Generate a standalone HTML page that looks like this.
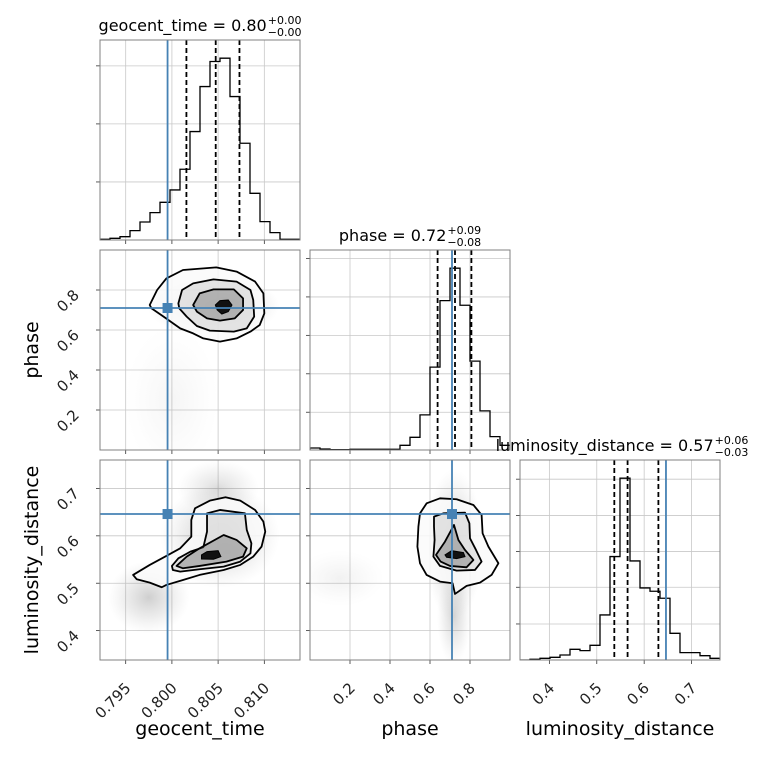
<!DOCTYPE html>
<html><head><meta charset="utf-8"><style>
html,body{margin:0;padding:0;background:#fff;}
svg{display:block;font-family:"DejaVu Sans","Liberation Sans",sans-serif;}
</style></head><body>
<svg id="chart" width="760" height="760" viewBox="0 0 760 760" xmlns="http://www.w3.org/2000/svg">
<defs>
<radialGradient id="blob" cx="50%" cy="50%" r="50%">
<stop offset="0%" stop-color="#666" stop-opacity="0.9"/>
<stop offset="55%" stop-color="#888" stop-opacity="0.45"/>
<stop offset="100%" stop-color="#aaa" stop-opacity="0"/>
</radialGradient>
</defs>
</svg>
<script>
// ---------- data ----------
const geoRange = [0.79222, 0.81386];
const phaseRange = [0, 1];
const lumRange = [0.338, 0.760];
const geoTicks = [0.795, 0.800, 0.805, 0.810];
const geoTickLabels = ["0.795", "0.800", "0.805", "0.810"];
const phaseTicks = [0.2, 0.4, 0.6, 0.8];
const phaseTickLabels = ["0.2", "0.4", "0.6", "0.8"];
const lumTicks = [0.4, 0.5, 0.6, 0.7];
const lumTickLabels = ["0.4", "0.5", "0.6", "0.7"];

const geoCounts = [2,5,10,28,54,82,113,150,212,325,460,535,545,430,290,140,55,22,2,2];
const phaseCounts = [6,3,1,1,2,2,2,2,2,14,38,105,248,447,544,433,266,117,40,14];
const lumCounts = [0,2,5,8,15,32,28,44,135,310,545,297,216,206,185,80,22,22,13,5];
const geoCountTicks = [174,348,522];
const phaseCountTicks = [113,228,343,458,573];
const lumCountTicks = [108,218,325,433,542];
const geoQuantiles = [0.80157, 0.80474, 0.80731];
const phaseQuantiles = [0.638, 0.725, 0.807];
const lumQuantiles = [0.537, 0.565, 0.630];
const truthGeo = 0.79953;
const truthPhase = 0.71;
const truthLum = 0.646;

// density clouds: [x, y, sigmaX, sigmaY, opacity]
const cloudGeoPhase = [[0.8045,0.72,0.0042,0.09,0.45],[0.8060,0.72,0.0014,0.04,0.5],[0.8000,0.25,0.003,0.22,0.07]];
const cloudGeoLum = [[0.8052,0.60,0.0038,0.065,0.4],[0.7975,0.47,0.0026,0.045,0.35],[0.8060,0.565,0.0014,0.015,0.55],[0.8050,0.70,0.0026,0.035,0.25]];
const cloudPhaseLum = [[0.72,0.58,0.085,0.095,0.4],[0.72,0.43,0.05,0.06,0.3],[0.72,0.565,0.035,0.018,0.55],[0.15,0.51,0.13,0.035,0.1]];

// contours [x, y]
const contGeoPhase = [
 [[0.7976,0.725],[0.7984,0.800],[0.7994,0.858],[0.8012,0.900],[0.8048,0.913],[0.8070,0.892],[0.8090,0.842],[0.8099,0.783],[0.8100,0.683],[0.8095,0.625],[0.8085,0.592],[0.8070,0.558],[0.8052,0.542],[0.8034,0.558],[0.8023,0.583],[0.8009,0.608],[0.7991,0.667],[0.7978,0.708]],
 [[0.8007,0.733],[0.8011,0.800],[0.8023,0.833],[0.8045,0.853],[0.8070,0.842],[0.8085,0.800],[0.8088,0.750],[0.8089,0.667],[0.8081,0.608],[0.8067,0.592],[0.8041,0.597],[0.8027,0.620],[0.8016,0.667],[0.8008,0.708]],
 [[0.8023,0.725],[0.8030,0.783],[0.8045,0.803],[0.8067,0.803],[0.8077,0.758],[0.8077,0.700],[0.8068,0.658],[0.8052,0.647],[0.8038,0.658],[0.8027,0.692]]
];
const coreGeoPhase = [[0.8047,0.725],[0.8052,0.747],[0.8061,0.750],[0.8065,0.725],[0.8061,0.692],[0.8054,0.680],[0.8049,0.700]];
const contGeoLum = [
 [[0.7958,0.5175],[0.7976,0.5386],[0.7996,0.5597],[0.8009,0.5737],[0.8021,0.5983],[0.8021,0.6335],[0.8025,0.6581],[0.8041,0.6742],[0.8058,0.6813],[0.8074,0.6742],[0.8090,0.6546],[0.8099,0.6299],[0.8101,0.6089],[0.8097,0.5772],[0.8088,0.5561],[0.8074,0.5386],[0.8056,0.5280],[0.8030,0.5175],[0.8012,0.5069],[0.7994,0.4964],[0.7989,0.4915],[0.7976,0.5013],[0.7962,0.5083]],
 [[0.8000,0.5365],[0.8007,0.5526],[0.8020,0.5667],[0.8034,0.5758],[0.8038,0.6089],[0.8038,0.6475],[0.8052,0.6546],[0.8079,0.6475],[0.8081,0.6124],[0.8086,0.5843],[0.8085,0.5632],[0.8074,0.5456],[0.8056,0.5350],[0.8030,0.5294],[0.8009,0.5245],[0.8001,0.5280]],
 [[0.8005,0.5365],[0.8016,0.5561],[0.8030,0.5737],[0.8056,0.6018],[0.8070,0.5913],[0.8081,0.5737],[0.8077,0.5561],[0.8059,0.5456],[0.8030,0.5365],[0.8012,0.5315]]
];
const coreGeoLum = [[0.8032,0.5597],[0.8038,0.5667],[0.8050,0.5688],[0.8053,0.5561],[0.8045,0.5505],[0.8032,0.5512]];
const contPhaseLum = [
 [[0.550,0.6475],[0.583,0.6686],[0.650,0.6792],[0.733,0.6771],[0.817,0.6651],[0.858,0.6440],[0.863,0.6053],[0.892,0.5772],[0.942,0.5421],[0.908,0.5175],[0.850,0.5013],[0.783,0.4943],[0.725,0.4774],[0.713,0.4999],[0.650,0.5034],[0.583,0.5175],[0.550,0.5421],[0.537,0.5772],[0.542,0.6194]],
 [[0.620,0.6405],[0.667,0.6475],[0.775,0.6489],[0.797,0.6264],[0.800,0.5948],[0.830,0.5702],[0.858,0.5456],[0.825,0.5280],[0.733,0.5266],[0.650,0.5365],[0.617,0.5561],[0.623,0.5913],[0.620,0.6194]],
 [[0.630,0.5597],[0.675,0.5878],[0.720,0.6229],[0.742,0.5913],[0.775,0.5702],[0.817,0.5491],[0.783,0.5336],[0.700,0.5365],[0.653,0.5456]]
];
const corePhaseLum = [[0.675,0.5597],[0.708,0.5688],[0.767,0.5646],[0.775,0.5561],[0.733,0.5519],[0.683,0.5547]];

// ---------- rendering ----------
const NS = "http://www.w3.org/2000/svg";
const svg = document.getElementById("chart");
function el(tag, attrs, parent) {
  const e = document.createElementNS(NS, tag);
  for (const k in attrs) e.setAttribute(k, attrs[k]);
  (parent || svg).appendChild(e);
  return e;
}
const P = 200;
function panelX(c){ return 100 + 210*c; }
function panelY(r){ return 40 + 210*r; }
function scale(range, a, b){ return v => a + (v - range[0])/(range[1]-range[0])*(b-a); }
const ranges = [geoRange, phaseRange, lumRange];
const ticks = [geoTicks, phaseTicks, lumTicks];
const tickLabels = [geoTickLabels, phaseTickLabels, lumTickLabels];
const GRID = "#c8c8c8";

function gridAndFrame(g, x0, y0, xt, sx, yt, sy) {
  xt.forEach(t => { const x = sx(t);
    const l = el("line",{x1:x,x2:x,y1:y0,y2:y0+P,stroke:GRID,"stroke-width":0.8},g);
    
    
    el("line",{x1:x,x2:x,y1:y0+P,y2:y0+P+4,stroke:"#333","stroke-width":0.8},g);
  });
  yt.forEach(t => { const y = sy(t);
    const l = el("line",{x1:x0,x2:x0+P,y1:y,y2:y,stroke:GRID,"stroke-width":0.8},g);
    
    
    el("line",{x1:x0-4,x2:x0,y1:y,y2:y,stroke:"#333","stroke-width":0.8},g);
  });
}
function frame(g, x0, y0) {
  const f = el("rect",{x:x0,y:y0,width:P,height:P,fill:"none",stroke:"#808080","stroke-width":1},g);
  
  
}
function clipFor(x0,y0,id){
  const defs = svg.querySelector("defs");
  const cp = el("clipPath",{id:id},defs);
  el("rect",{x:x0,y:y0,width:P,height:P},cp);
  return "url(#"+id+")";
}

// Histograms
const histCounts = [geoCounts, phaseCounts, lumCounts];
const histTicks = [geoCountTicks, phaseCountTicks, lumCountTicks];
const quant = [geoQuantiles, phaseQuantiles, lumQuantiles];
const truths = [truthGeo, truthPhase, truthLum];
const names = ["geocent-time","phase","luminosity-distance"];
for (let i=0;i<3;i++){
  const x0 = panelX(i), y0 = panelY(i);
  const g = el("g",{});
  
  
  const counts = histCounts[i];
  const ymax = Math.max(...counts)*1.1;
  const sx = scale(ranges[i], x0, x0+P);
  const sy = v => y0 + P - v/ymax*P;
  gridAndFrame(g, x0, y0, ticks[i], sx, histTicks[i], sy);
  const n = counts.length, w = (ranges[i][1]-ranges[i][0])/n;
  let d = "M"+sx(ranges[i][0])+","+sy(0);
  counts.forEach((c,k)=>{ const a=sx(ranges[i][0]+k*w), b=sx(ranges[i][0]+(k+1)*w);
    d += " L"+a+","+sy(c)+" L"+b+","+sy(c); });
  d += " L"+sx(ranges[i][1])+","+sy(0);
  const h = el("path",{d:d,fill:"none",stroke:"#000","stroke-width":1.3,"clip-path":clipFor(x0,y0,"hc"+i)},g);
  
  
  quant[i].forEach(q=>{ const x=sx(q);
    const l = el("line",{x1:x,x2:x,y1:y0,y2:y0+P,stroke:"#000","stroke-width":1.8,"stroke-dasharray":"5,3"},g);
    
    
  });
  const tx = sx(truths[i]);
  const tl = el("line",{x1:tx,x2:tx,y1:y0,y2:y0+P,stroke:"#4682b4","stroke-width":1.8},g);
  
  
  frame(g,x0,y0);
}

// 2D panels
const pairs = [
  {c:0,r:1,clouds:cloudGeoPhase,conts:contGeoPhase,core:coreGeoPhase,name:"geocent-vs-phase"},
  {c:0,r:2,clouds:cloudGeoLum,conts:contGeoLum,core:coreGeoLum,name:"geocent-vs-luminosity"},
  {c:1,r:2,clouds:cloudPhaseLum,conts:contPhaseLum,core:corePhaseLum,name:"phase-vs-luminosity"}
];
pairs.forEach((p,idx)=>{
  const x0=panelX(p.c), y0=panelY(p.r);
  const g = el("g",{});
  
  
  const sx = scale(ranges[p.c], x0, x0+P);
  const sy = scale(ranges[p.r], y0+P, y0);
  gridAndFrame(g,x0,y0,ticks[p.c],sx,ticks[p.r],sy);
  const inner = el("g",{"clip-path":clipFor(x0,y0,"pc"+idx)},g);
  p.clouds.forEach(b=>{
    const rx = Math.abs(sx(b[0]+b[2])-sx(b[0]))*1.7, ry = Math.abs(sy(b[1]+b[3])-sy(b[1]))*1.7;
    const e = el("ellipse",{cx:sx(b[0]),cy:sy(b[1]),rx:rx,ry:ry,fill:"url(#blob)",opacity:b[4]},inner);
    
    
  });
  p.conts.forEach((c,k)=>{
    const pts = c.map(q=>sx(q[0])+","+sy(q[1])).join(" ");
    const poly = el("polygon",{points:pts,fill:k==0?"rgba(250,250,250,0.85)":(k==1?"rgba(200,200,200,0.45)":"rgba(120,120,120,0.45)"),stroke:"#000","stroke-width":1.8,"stroke-linejoin":"round"},inner);
    
    
  });
  const core = el("polygon",{points:p.core.map(q=>sx(q[0])+","+sy(q[1])).join(" "),fill:"#111",stroke:"#000","stroke-width":1},inner);
  
  
  const tx=sx(truths[p.c]), ty=sy(truths[p.r]);
  const v = el("line",{x1:tx,x2:tx,y1:y0,y2:y0+P,stroke:"#4682b4","stroke-width":1.8},inner);
  
  
  const hl = el("line",{x1:x0,x2:x0+P,y1:ty,y2:ty,stroke:"#4682b4","stroke-width":1.8},inner);
  
  
  const m = el("rect",{x:tx-5,y:ty-5,width:10,height:10,fill:"#4682b4"},inner);
  
  
  frame(g,x0,y0);
});

// Tick labels
for (let c=0;c<3;c++){
  const x0=panelX(c), sx=scale(ranges[c],x0,x0+P);
  ticks[c].forEach((t,k)=>{
    const x=sx(t)+6, y=689;
    const tt = el("text",{x:x,y:y,"font-size":15,"text-anchor":"end",fill:"#222",transform:"rotate(-45 "+x+" "+y+")"});
    tt.textContent = tickLabels[c][k];
    
    
  });
}
for (let r=1;r<3;r++){
  const y0=panelY(r), sy=scale(ranges[r],y0+P,y0);
  ticks[r].forEach((t,k)=>{
    const x=80, y=sy(t)+6;
    const tt = el("text",{x:x,y:y,"font-size":15,"text-anchor":"end",fill:"#222",transform:"rotate(-45 "+x+" "+y+")"});
    tt.textContent = tickLabels[r][k];
    
    
  });
}
// Axis labels
const xl = [["geocent_time",200],["phase",410],["luminosity_distance",620]];
xl.forEach(a=>{
  const t = el("text",{x:a[1],y:735,"font-size":19,"text-anchor":"middle",fill:"#000"});
  t.textContent=a[0];
  
  
});
const yl = [["phase",350],["luminosity_distance",560]];
yl.forEach(a=>{
  const t = el("text",{x:38,y:a[1],"font-size":19,"text-anchor":"middle",fill:"#000",transform:"rotate(-90 38 "+a[1]+")"});
  t.textContent=a[0];
  
  
});
// Titles
const titles = [["geocent_time = 0.80","+0.00","\u22120.00",200,31],["phase = 0.72","+0.09","\u22120.08",410,241],["luminosity_distance = 0.57","+0.06","\u22120.03",622,451]];
titles.forEach(tt=>{
  const g = el("g",{});
  
  
  const main = el("text",{x:0,y:tt[4],"font-size":16,fill:"#000"},g);
  main.textContent = tt[0];
  const wMain = main.getComputedTextLength();
  const sup = el("text",{x:0,y:tt[4]-7,"font-size":11,fill:"#000"},g);
  sup.textContent = tt[1];
  const sub = el("text",{x:0,y:tt[4]+5,"font-size":11,fill:"#000"},g);
  sub.textContent = tt[2];
  const wS = Math.max(sup.getComputedTextLength(), sub.getComputedTextLength());
  const start = tt[3] - (wMain + wS + 1)/2;
  main.setAttribute("x", start);
  sup.setAttribute("x", start+wMain+1);
  sub.setAttribute("x", start+wMain+1);
});
</script>
</body></html>
